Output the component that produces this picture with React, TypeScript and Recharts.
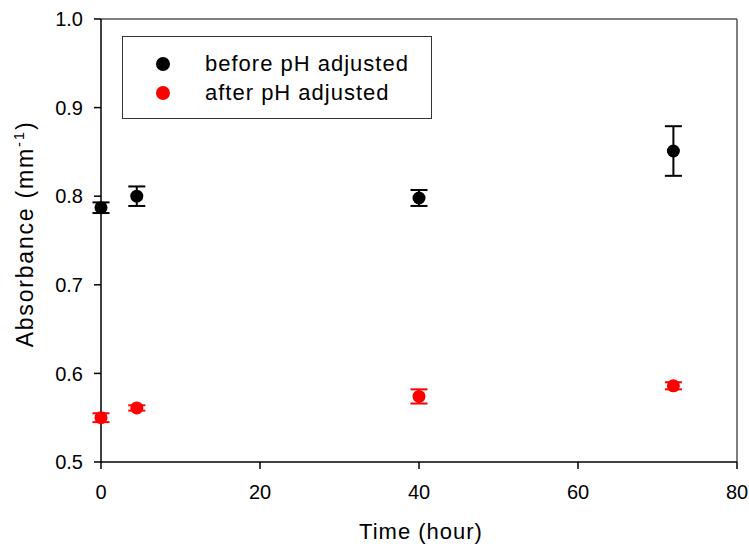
import React from 'react';
import {
  ScatterChart,
  Scatter,
  XAxis,
  YAxis,
  ErrorBar,
  ReferenceLine,
} from 'recharts';

// Sampling times (hour)
const times = [0, 4.5, 40, 72];

// Mean absorbance (mm^-1) and standard deviation for each series
const beforeMeans = [0.787, 0.8, 0.798, 0.851];
const beforeErr = [0.006, 0.011, 0.009, 0.028];
const afterMeans = [0.55, 0.561, 0.574, 0.586];
const afterErr = [0.005, 0.003, 0.008, 0.004];

const seriesNames = ['before pH adjusted', 'after pH adjusted'];
const seriesColors = ['#000000', '#ff0000'];

const xTicks = [0, 20, 40, 60, 80];
const yTicks = [0.5, 0.6, 0.7, 0.8, 0.9, 1.0];

const FONT = '"Liberation Sans", Arial, sans-serif';

const beforeData = times.map((t, i) => ({ x: t, y: beforeMeans[i], err: beforeErr[i] }));
const afterData = times.map((t, i) => ({ x: t, y: afterMeans[i], err: afterErr[i] }));

const Dot = (props: any) => {
  const { cx, cy, fill } = props;
  if (cx == null || cy == null) return null;
  return <circle cx={cx} cy={cy} r={6.5} fill={fill} />;
};

// Boxed legend laid over the upper-left of the plot
const LegendBox = () => (
  <div
    style={{
      position: 'absolute',
      left: 122,
      top: 36,
      border: '1.5px solid #333',
      width: 310,
      height: 83,
      boxSizing: 'border-box',
      background: '#fff',
      fontFamily: FONT,
      fontSize: 22,
      letterSpacing: 1,
      paddingTop: 12,
    }}
  >
    {seriesNames.map((name, i) => (
      <div key={name} style={{ display: 'flex', alignItems: 'center', height: 29.5 }}>
        <svg width={82} height={20} style={{ flex: 'none' }}>
          <circle cx={40} cy={10} r={7} fill={seriesColors[i]} />
        </svg>
        <span style={{ color: '#000' }}>{name}</span>
      </div>
    ))}
  </div>
);

const YTitle = () => (
  <text
    x={33}
    y={234}
    transform="rotate(-90 33 234)"
    textAnchor="middle"
    fontFamily={FONT}
    fontSize={23}
    letterSpacing={1.8}
    fill="#000"
  >
    Absorbance (mm
    <tspan dy={-9} fontSize={15}>-1</tspan>
    <tspan dy={9}>)</tspan>
  </text>
);

const XTitle = () => (
  <text x={421} y={539} textAnchor="middle" fontFamily={FONT} fontSize={22} letterSpacing={1} fill="#000">
    Time (hour)
  </text>
);

export default function App() {
  return (
    <div style={{ position: 'absolute', left: 0, top: 0, width: 749, height: 548, background: '#fff' }}>
      <ScatterChart width={749} height={548} margin={{ top: 19, right: 12, bottom: 0, left: 0 }}>
        <XAxis
          type="number"
          dataKey="x"
          domain={[0, 80]}
          ticks={xTicks}
          height={86}
          tickSize={7}
          tickMargin={16}
          axisLine={{ stroke: '#000', strokeWidth: 1.5 }}
          tickLine={{ stroke: '#000', strokeWidth: 1.5 }}
          tick={{ fill: '#000', fontSize: 20, fontFamily: FONT }}
          label={<XTitle />}
        />
        <YAxis
          type="number"
          dataKey="y"
          domain={[0.5, 1.0]}
          ticks={yTicks}
          width={101}
          tickSize={7}
          tickMargin={11}
          tickFormatter={(v: number) => v.toFixed(1)}
          axisLine={{ stroke: '#000', strokeWidth: 1.5 }}
          tickLine={{ stroke: '#000', strokeWidth: 1.5 }}
          tick={{ fill: '#000', fontSize: 20, fontFamily: FONT }}
          label={<YTitle />}
        />
        <ReferenceLine y={1.0} stroke="#555" strokeWidth={1.5} />
        <ReferenceLine x={80} stroke="#555" strokeWidth={1.5} />
        <Scatter
          name={seriesNames[0]}
          data={beforeData}
          fill={seriesColors[0]}
          shape={<Dot />}
          isAnimationActive={false}
        >
          <ErrorBar dataKey="err" direction="y" width={8.5} stroke={seriesColors[0]} strokeWidth={2} isAnimationActive={false} />
        </Scatter>
        <Scatter
          name={seriesNames[1]}
          data={afterData}
          fill={seriesColors[1]}
          shape={<Dot />}
          isAnimationActive={false}
        >
          <ErrorBar dataKey="err" direction="y" width={8.5} stroke={seriesColors[1]} strokeWidth={2} isAnimationActive={false} />
        </Scatter>
      </ScatterChart>
      <LegendBox />
    </div>
  );
}
